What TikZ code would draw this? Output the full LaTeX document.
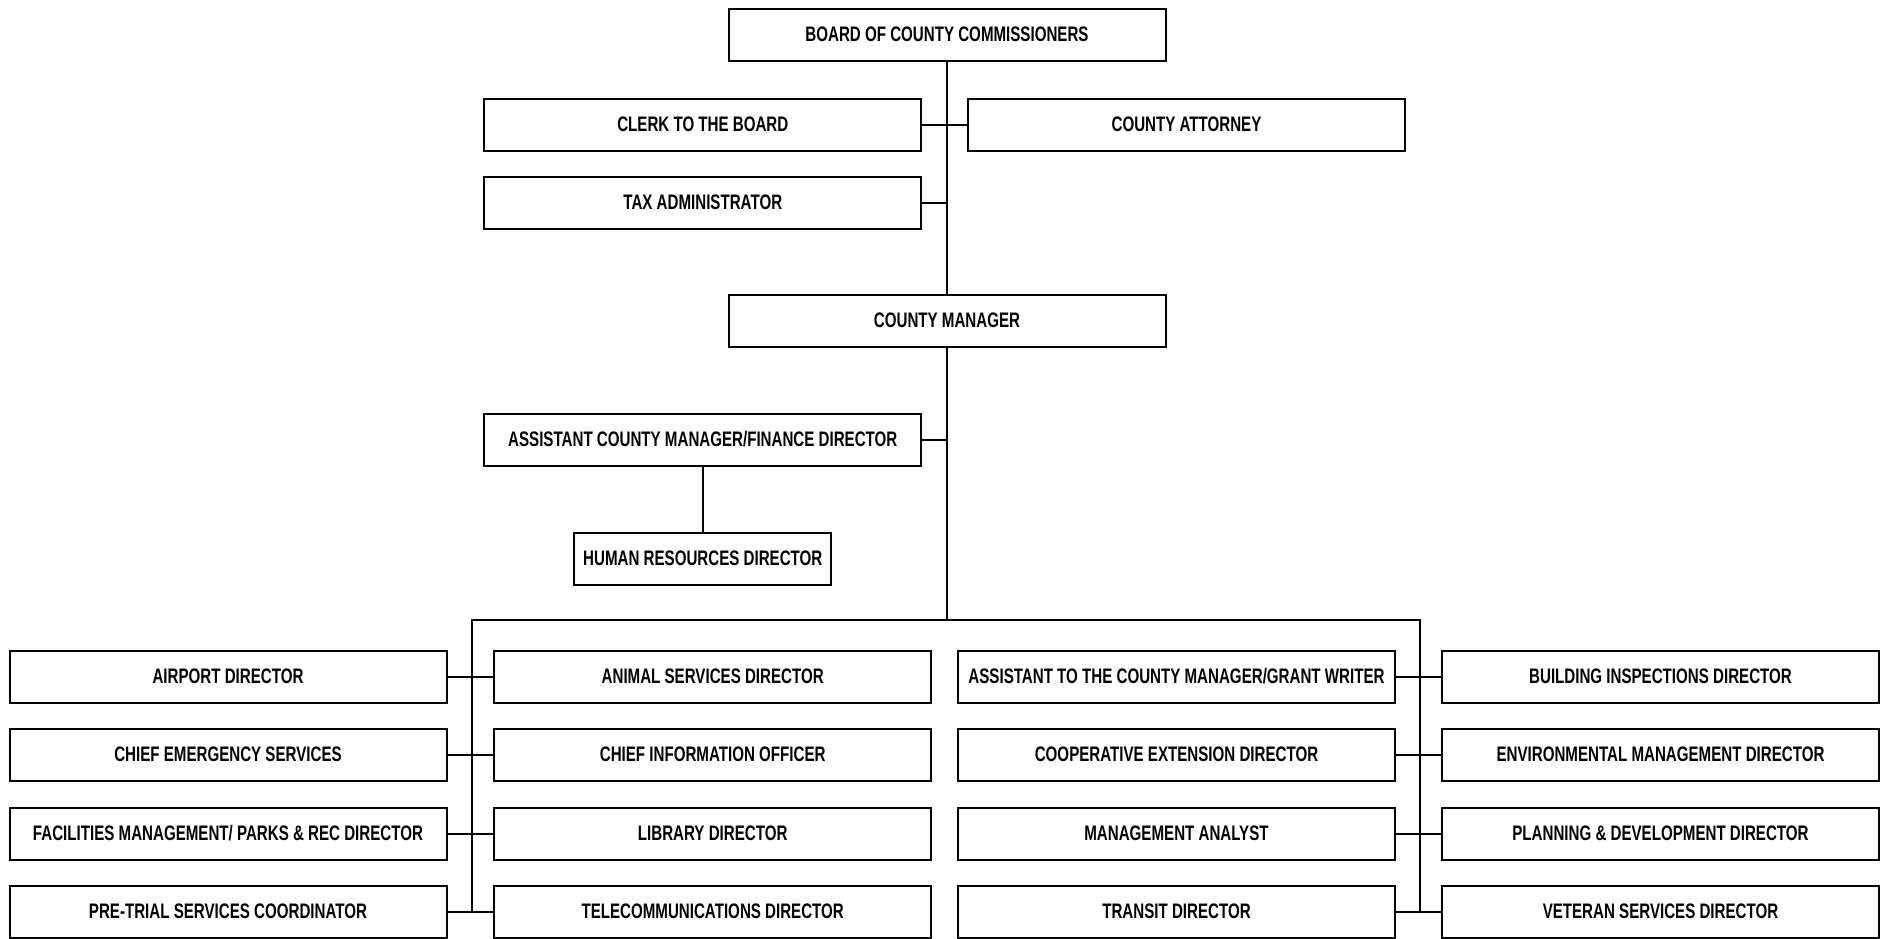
\documentclass[tikz,border=0pt]{standalone}
\usepackage{fontspec}
\setmainfont[FakeStretch=0.72]{Liberation Sans}
\begin{document}
\begin{tikzpicture}[x=1pt,y=-1pt,
  box/.style={draw, line width=2pt, rectangle, inner sep=0pt, minimum width=437pt, minimum height=52pt, text height=15pt, text depth=2pt, font=\fontsize{21}{24}\selectfont\bfseries},
  link/.style={line width=2pt}]
\useasboundingbox (0,0) rectangle (1883,938);
% top part
\node[box] (board) at (947,35) {BOARD OF COUNTY COMMISSIONERS};
\node[box] (clerk) at (702.8,125) {CLERK TO THE BOARD};
\node[box] (attorney) at (1186.5,125) {COUNTY ATTORNEY};
\node[box] (tax) at (702.8,203) {TAX ADMINISTRATOR};
\node[box] (cm) at (947,321) {COUNTY MANAGER};
\node[box] (acm) at (702.8,440) {ASSISTANT COUNTY MANAGER/FINANCE DIRECTOR};
\node[box, minimum width=257pt] (hr) at (702.8,558.5) {HUMAN RESOURCES DIRECTOR};
% bottom rows
\node[box] (airport) at (228,676.5) {AIRPORT DIRECTOR};
\node[box] (animal) at (712.7,676.5) {ANIMAL SERVICES DIRECTOR};
\node[box] (grant) at (1176.5,676.5) {ASSISTANT TO THE COUNTY MANAGER/GRANT WRITER};
\node[box] (building) at (1660.5,676.5) {BUILDING INSPECTIONS DIRECTOR};
\node[box] (emerg) at (228,755) {CHIEF EMERGENCY SERVICES};
\node[box] (cio) at (712.7,755) {CHIEF INFORMATION OFFICER};
\node[box] (coop) at (1176.5,755) {COOPERATIVE EXTENSION DIRECTOR};
\node[box] (env) at (1660.5,755) {ENVIRONMENTAL MANAGEMENT DIRECTOR};
\node[box] (fac) at (228,833.5) {FACILITIES MANAGEMENT/ PARKS \& REC DIRECTOR};
\node[box] (lib) at (712.7,833.5) {LIBRARY DIRECTOR};
\node[box] (mgmt) at (1176.5,833.5) {MANAGEMENT ANALYST};
\node[box] (plan) at (1660.5,833.5) {PLANNING \& DEVELOPMENT DIRECTOR};
\node[box] (pre) at (228,911.5) {PRE-TRIAL SERVICES COORDINATOR};
\node[box] (tele) at (712.7,911.5) {TELECOMMUNICATIONS DIRECTOR};
\node[box] (transit) at (1176.5,911.5) {TRANSIT DIRECTOR};
\node[box] (vet) at (1660.5,911.5) {VETERAN SERVICES DIRECTOR};
% bus coordinates
\coordinate (busM) at (947,620);
\coordinate (busL) at (471.5,620);
\coordinate (busR) at (1420,620);
% connectors
\draw[link] (board.south) -- (cm.north);
\draw[link] (clerk.east) -- (attorney.west);
\draw[link] (tax.east) -- (tax.east -| board.south);
\draw[link] (cm.south) -- (busM);
\draw[link] (acm.east) -- (acm.east -| cm.south);
\draw[link] (acm.south) -- (hr.north);
\draw[link] (busL |- pre.east) -- (busL) -- (busR) -- (busR |- vet.west);
\draw[link] (airport.east) -- (animal.west);
\draw[link] (emerg.east) -- (cio.west);
\draw[link] (fac.east) -- (lib.west);
\draw[link] (pre.east) -- (tele.west);
\draw[link] (grant.east) -- (building.west);
\draw[link] (coop.east) -- (env.west);
\draw[link] (mgmt.east) -- (plan.west);
\draw[link] (transit.east) -- (vet.west);
\end{tikzpicture}
\end{document}
